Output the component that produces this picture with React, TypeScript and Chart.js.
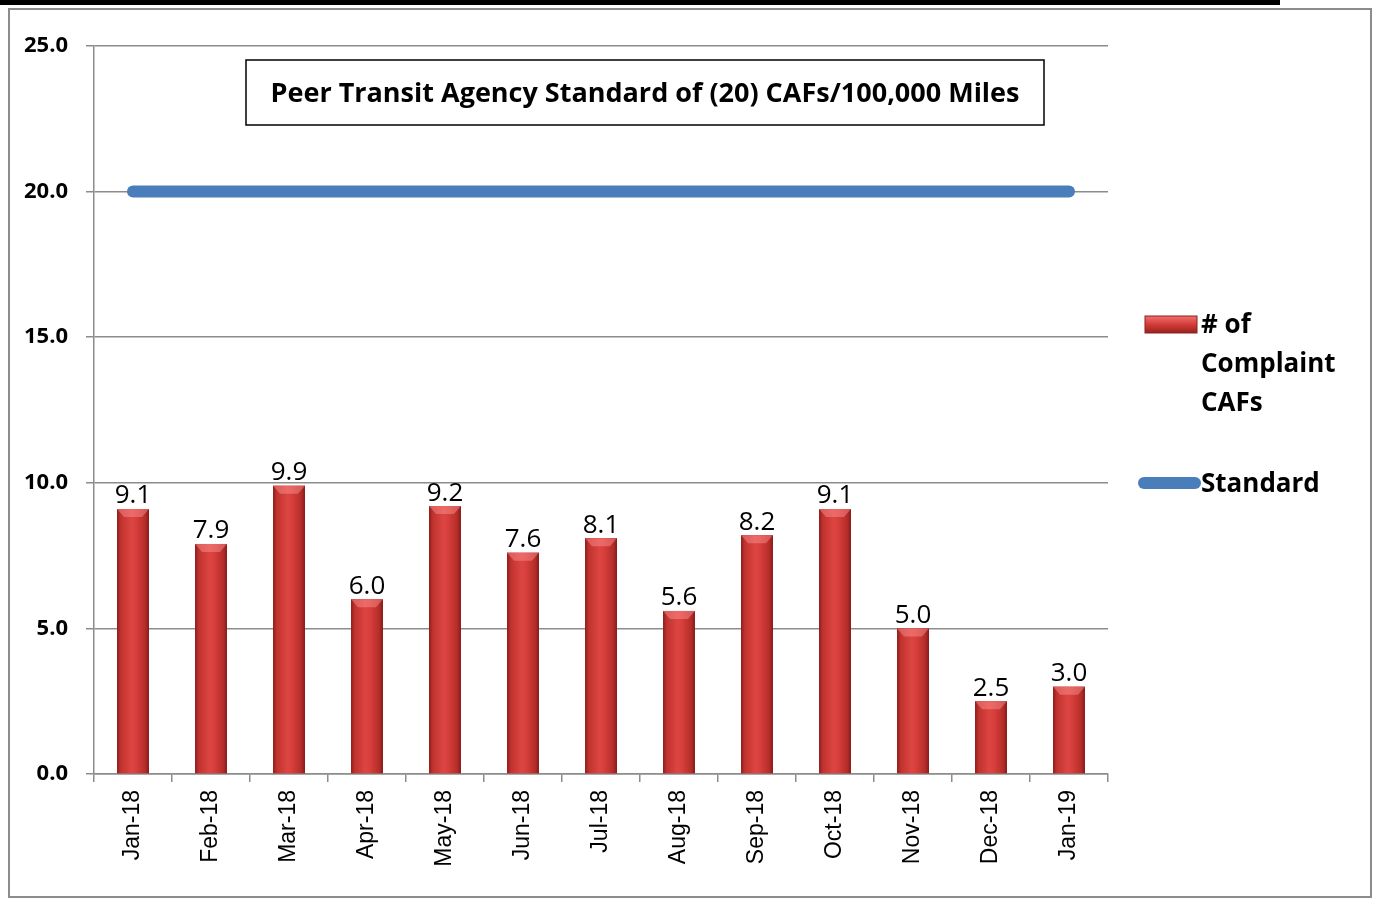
import React, { useEffect, useRef } from "react";
import { Chart, registerables } from "chart.js";

Chart.register(...registerables);

const categories = ["Jan-18", "Feb-18", "Mar-18", "Apr-18", "May-18", "Jun-18", "Jul-18", "Aug-18", "Sep-18", "Oct-18", "Nov-18", "Dec-18", "Jan-19"];
const complaintCAFs = [9.1, 7.9, 9.9, 6.0, 9.2, 7.6, 8.1, 5.6, 8.2, 9.1, 5.0, 2.5, 3.0];
const standardValues = [20, 20, 20, 20, 20, 20, 20, 20, 20, 20, 20, 20, 20];
const yTicks = [0, 5, 10, 15, 20, 25];
const boxTitle = "Peer Transit Agency Standard of (20) CAFs/100,000 Miles";
const legendBarLines = ["# of", "Complaint", "CAFs"];
const legendLineLabel = "Standard";

const SANS = "'Open Sans', Lato, sans-serif";
const BLUE = "#4a7ebb";

const overlayPlugin = {
  id: "overlay",
  afterDatasetDraw(chart: any, args: any) {
    if (args.index !== 0) return;
    const ctx = chart.ctx;
    const meta = chart.getDatasetMeta(0);
    meta.data.forEach((el: any) => {
      const { x, y, base, width } = el.getProps(["x", "y", "base", "width"], true);
      const l = x - width / 2;
      const g = ctx.createLinearGradient(l, 0, l + width, 0);
      g.addColorStop(0, "#8e1f1c");
      g.addColorStop(0.12, "#c0332f");
      g.addColorStop(0.45, "#dc4541");
      g.addColorStop(0.6, "#d63f3b");
      g.addColorStop(0.88, "#b52d29");
      g.addColorStop(1, "#861c1a");
      ctx.save();
      ctx.fillStyle = g;
      ctx.fillRect(l, y, width, base - y);
      const bh = Math.min(8, (base - y) / 2);
      ctx.fillStyle = "rgba(255,150,150,0.45)";
      ctx.beginPath();
      ctx.moveTo(l, y);
      ctx.lineTo(l + width, y);
      ctx.lineTo(l + width - 7, y + bh);
      ctx.lineTo(l + 7, y + bh);
      ctx.closePath();
      ctx.fill();
      ctx.restore();
    });
  },
  afterDraw(chart: any) {
    const ctx = chart.ctx;
    const meta = chart.getDatasetMeta(0);
    ctx.save();
    ctx.fillStyle = "#000";
    ctx.font = `26px ${SANS}`;
    ctx.textAlign = "center";
    ctx.textBaseline = "bottom";
    meta.data.forEach((el: any, i: number) => {
      ctx.fillText(complaintCAFs[i].toFixed(1), el.x, el.y);
    });

    ctx.fillStyle = "#fff";
    ctx.fillRect(246, 60, 798, 65);
    ctx.strokeStyle = "#000";
    ctx.lineWidth = 1.5;
    ctx.strokeRect(246, 60, 798, 65);
    ctx.fillStyle = "#000";
    ctx.font = `bold 27px ${SANS}`;
    ctx.textAlign = "center";
    ctx.textBaseline = "middle";
    ctx.fillText(boxTitle, 645, 94);

    const sg = ctx.createLinearGradient(0, 316, 0, 334);
    sg.addColorStop(0, "#f07070");
    sg.addColorStop(0.5, "#d03a36");
    sg.addColorStop(1, "#8e1f1c");
    ctx.fillStyle = sg;
    ctx.fillRect(1145, 316, 52, 17);
    ctx.strokeStyle = "#8e1f1c";
    ctx.lineWidth = 1;
    ctx.strokeRect(1145, 316, 52, 17);

    ctx.strokeStyle = BLUE;
    ctx.lineWidth = 12;
    ctx.lineCap = "round";
    ctx.beginPath();
    ctx.moveTo(1144, 483);
    ctx.lineTo(1195, 483);
    ctx.stroke();

    ctx.fillStyle = "#000";
    ctx.font = `bold 26px ${SANS}`;
    ctx.textAlign = "left";
    ctx.textBaseline = "middle";
    legendBarLines.forEach((t, i) => ctx.fillText(t, 1201, 326 + i * 39));
    ctx.fillText(legendLineLabel, 1201, 485);
    ctx.restore();
  },
};

export default function App() {
  const ref = useRef<HTMLCanvasElement | null>(null);
  useEffect(() => {
    if (!ref.current) return;
    const chart = new Chart(ref.current, {
      type: "bar",
      data: {
        labels: categories,
        datasets: [
          {
            type: "bar",
            label: "# of Complaint CAFs",
            data: complaintCAFs,
            backgroundColor: "#c0302c",
            barPercentage: 0.41,
            categoryPercentage: 1,
            order: 2,
          },
          {
            type: "line",
            label: "Standard",
            data: standardValues,
            borderColor: BLUE,
            borderWidth: 12,
            borderCapStyle: "round",
            pointRadius: 0,
            fill: false,
            order: 1,
          } as any,
        ],
      },
      options: {
        animation: false,
        responsive: false,
        maintainAspectRatio: false,
        layout: { padding: { left: 0, top: 46, right: 266, bottom: 0 } },
        plugins: { legend: { display: false }, tooltip: { enabled: false } },
        scales: {
          x: {
            offset: true,
            grid: { offset: true, drawOnChartArea: false, drawTicks: true, tickLength: 8, color: "#8c8c8c", lineWidth: 1.5 },
            border: { display: true, color: "#8c8c8c", width: 1.5 },
            ticks: {
              minRotation: 90,
              maxRotation: 90,
              autoSkip: false,
              padding: 8,
              color: "#000",
              font: { family: "'Liberation Sans', Arial, sans-serif", size: 23 },
            },
            afterFit(scale: any) {
              scale.height = 124;
            },
          },
          y: {
            min: 0,
            max: 25,
            afterBuildTicks(scale: any) {
              scale.ticks = yTicks.map((v) => ({ value: v }));
            },
            grid: { color: "#8c8c8c", lineWidth: 1.5, tickLength: 8 },
            border: { display: true, color: "#8c8c8c", width: 1.5 },
            ticks: {
              padding: 18,
              color: "#000",
              font: { family: SANS, size: 22, weight: "bold" },
              callback: (v: any) => Number(v).toFixed(1),
            },
            afterFit(scale: any) {
              scale.width = 94;
            },
          },
        },
      },
      plugins: [overlayPlugin],
    });
    return () => chart.destroy();
  }, []);

  return (
    <div style={{ position: "fixed", left: 0, top: 0, width: 1374, height: 898, background: "#fff" }}>
      <div style={{ position: "absolute", left: 0, top: 0, width: 1280, height: 5, background: "#000" }} />
      <div style={{ position: "absolute", left: 8, top: 8, width: 1360, height: 886, border: "2px solid #8c8c8c" }} />
      <canvas ref={ref} width={1374} height={898} style={{ position: "absolute", left: 0, top: 0, width: 1374, height: 898 }} />
    </div>
  );
}
